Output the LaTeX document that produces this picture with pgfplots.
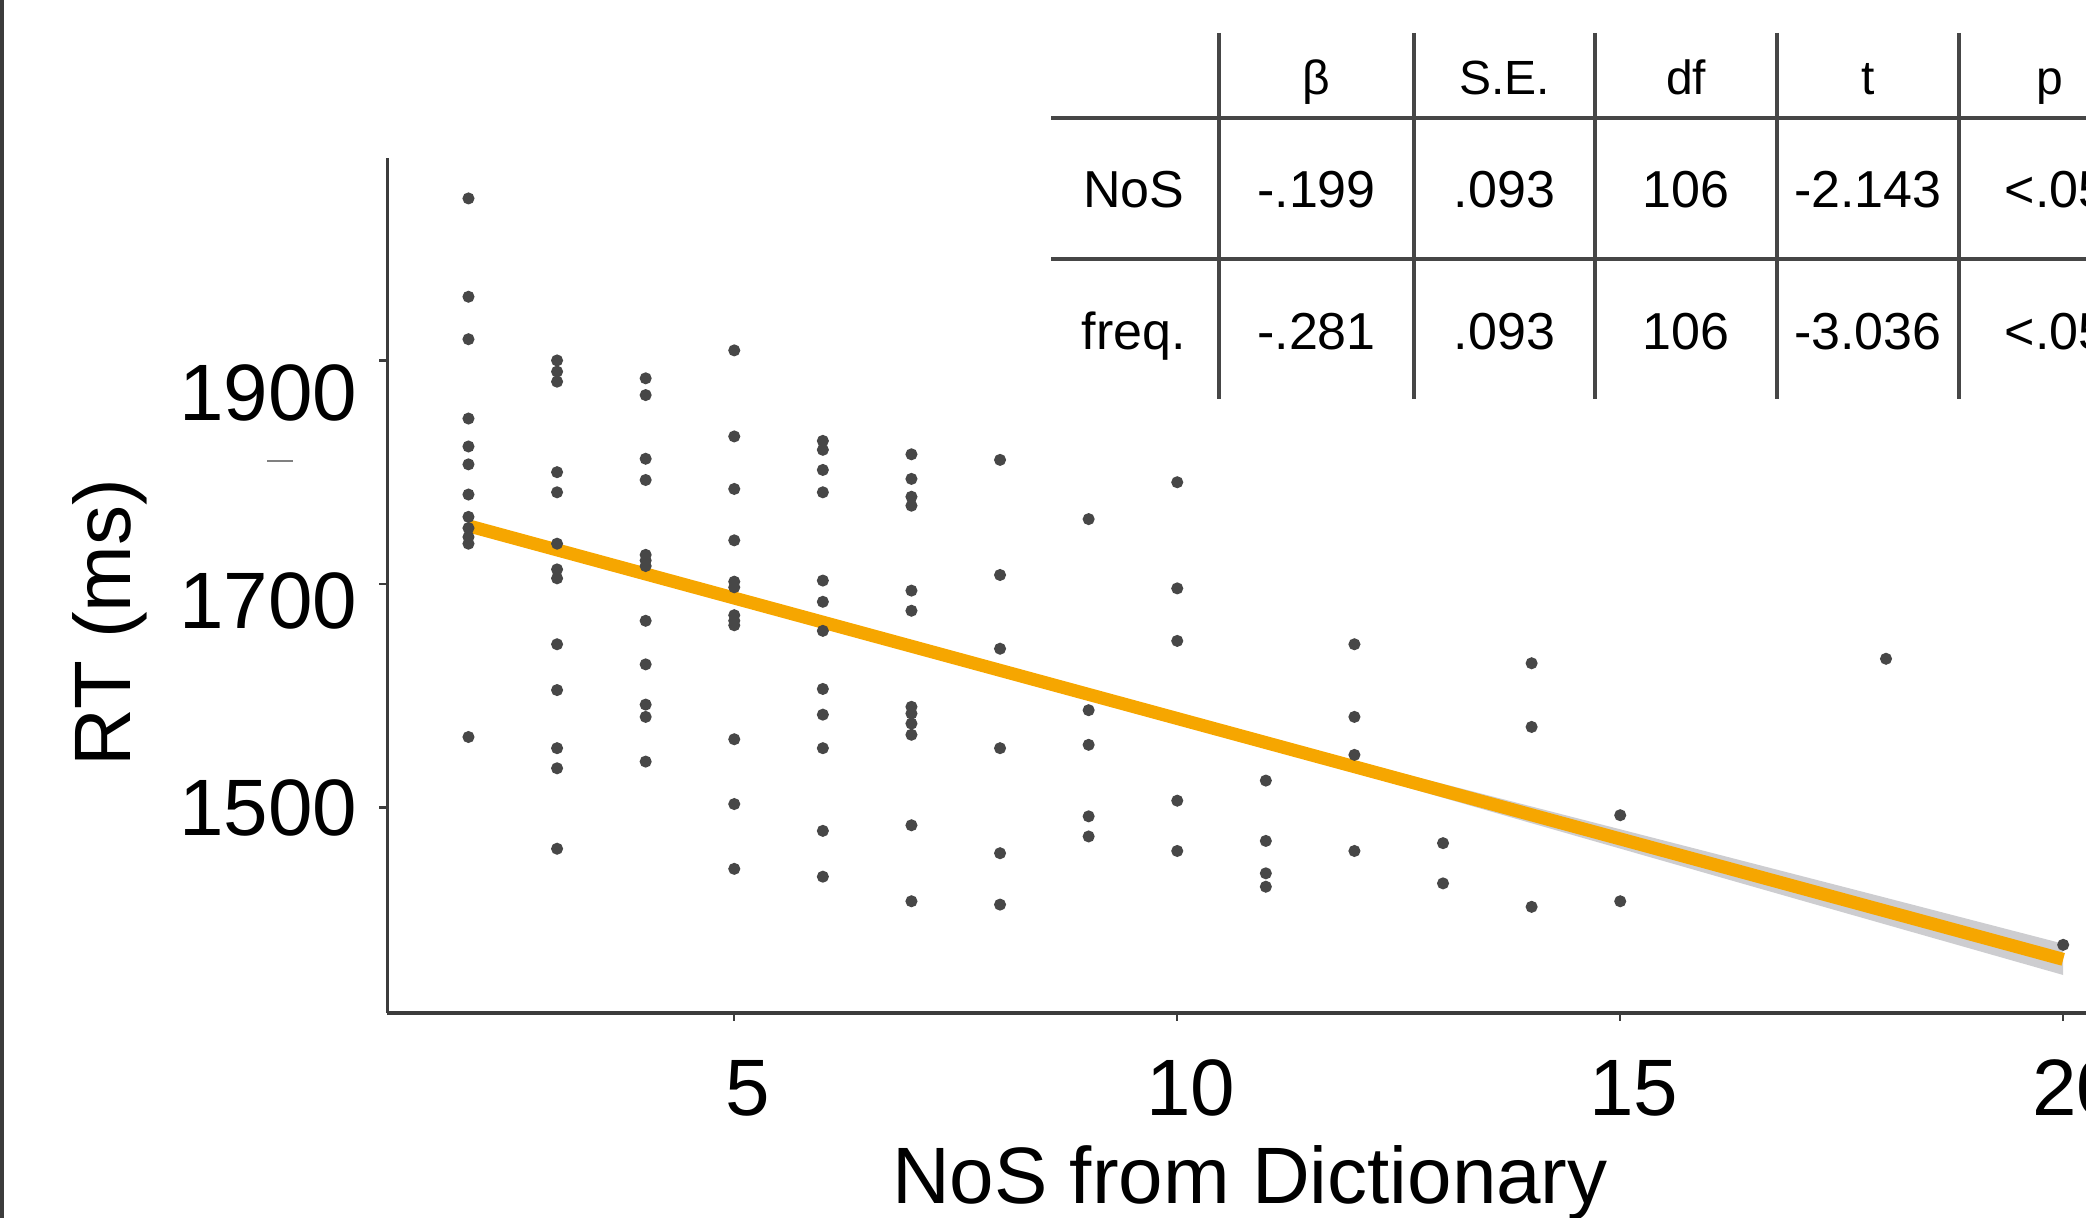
\documentclass[border=0pt]{standalone}
\usepackage{fontspec}
\setmainfont{Liberation Sans}
\usepackage{pgfplots}
\pgfplotsset{compat=1.18}

\definecolor{ptcol}{HTML}{474747}
\definecolor{lineorange}{RGB}{246,166,0}
\definecolor{ribbon}{RGB}{205,205,208}
\definecolor{axiscol}{HTML}{3C3C3C}
\definecolor{tabline}{HTML}{464646}

\begin{document}
\begin{tikzpicture}
\clip (0,0) rectangle (521.5pt,304.5pt);
\begin{pgfinterruptboundingbox}
\begin{axis}[
  at={(96.83pt,51.25pt)}, anchor=south west,
  scale only axis, width=438.9pt, height=213.7pt,
  xmin=1.084, xmax=20.9, ymin=1316, ymax=2081,
  axis lines=left,
  axis line style={-, line width=0.8pt, axiscol},
  xtick={5,10,15,20}, ytick={1500,1700,1900}, yticklabels={},
  tick align=outside, major tick length=2pt,
  tick style={line width=0.6pt, axiscol},
  /pgf/number format/assume math mode=true,
  xticklabel style={font=\fontsize{20}{24}\selectfont, anchor=base, yshift=-23.75pt, xshift=3.4pt},
  xlabel={NoS from Dictionary},
  xlabel style={at={(axis cs:10.82,1145.6)}, anchor=base, font=\fontsize{20}{24}\selectfont},
  ylabel={RT (ms)},
  ylabel style={at={(axis cs:-1.82,1665.5)}, anchor=base, font=\fontsize{20}{24}\selectfont},
]
% individual items
\addplot[only marks, mark=*, mark size=1.3pt, color=ptcol] table {
x y
2 2045
2 1957
2 1919
2 1848
2 1823
2 1807
2 1780
2 1760
2 1750
2 1742
2 1736
2 1563
3 1900
3 1890
3 1881
3 1800
3 1782
3 1736
3 1713
3 1705
3 1646
3 1605
3 1553
3 1535
3 1463
4 1884
4 1869
4 1812
4 1793
4 1726
4 1721
4 1716
4 1667
4 1628
4 1592
4 1581
4 1541
5 1909
5 1832
5 1785
5 1739
5 1702
5 1697
5 1672
5 1667
5 1663
5 1561
5 1503
5 1445
6 1828
6 1820
6 1802
6 1782
6 1703
6 1684
6 1658
6 1606
6 1583
6 1553
6 1479
6 1438
7 1816
7 1794
7 1778
7 1770
7 1694
7 1676
7 1590
7 1584
7 1575
7 1565
7 1484
7 1416
8 1811
8 1708
8 1642
8 1553
8 1459
8 1413
9 1758
9 1587
9 1556
9 1492
9 1474
10 1791
10 1696
10 1649
10 1506
10 1461
11 1524
11 1470
11 1441
11 1429
12 1646
12 1581
12 1547
12 1461
13 1468
13 1432
14 1629
14 1572
14 1411
15 1493
15 1416
18 1633
20 1377
};
% confidence band
\addplot[draw=none, fill=ribbon] coordinates {
(2,1757.0) (6,1668.8) (8,1625.5) (10,1583.1) (12,1541.4) (14,1500.8) (16,1460.0) (18,1419.1) (20,1378.0)
(20,1350.0) (18,1395.1) (16,1440.4) (14,1485.8) (12,1531.4) (10,1576.1) (8,1619.9) (6,1662.8) (2,1747.0)
} --cycle;
% fitted line
\addplot[lineorange, line width=3.25pt] coordinates {(2,1752) (20,1364)};
\end{axis}

\begin{scope}[x=0.25pt, y=-0.25pt, yshift=304.5pt]
  \draw[axiscol, line width=0.8pt] (2,0) -- (2,1218);
  \draw[gray, line width=0.5pt] (267,461) -- (293,461);
  \begin{scope}[font=\fontsize{20}{24}\selectfont]
    \node[anchor=base east, inner sep=0pt] at (358,421) {1900};
    \node[anchor=base east, inner sep=0pt] at (358,629) {1700};
    \node[anchor=base east, inner sep=0pt] at (358,836) {1500};
  \end{scope}
  % table
  \draw[tabline, line width=0.9pt] (1051,118) -- (2086,118);
  \draw[tabline, line width=0.9pt] (1051,259) -- (2086,259);
  \foreach \xx in {1219,1414,1595,1777,1959}
    \draw[tabline, line width=0.9pt] (\xx,33) -- (\xx,399);
  \begin{scope}[font=\fontsize{12}{14}\selectfont, inner sep=0pt]
    \node[anchor=base] at (1316.5,95) {β};
    \node[anchor=base] at (1504.5,95) {S.E.};
    \node[anchor=base] at (1686,95) {df};
    \node[anchor=base] at (1868,95) {t};
    \node[anchor=base] at (2050,95) {p};
  \end{scope}
  \begin{scope}[font=\fontsize{13}{15}\selectfont, inner sep=0pt]
    \node[anchor=base] at (1134,208) {NoS};
    \node[anchor=base] at (1316.5,208) {-.199};
    \node[anchor=base] at (1504.5,208) {.093};
    \node[anchor=base] at (1686,208) {106};
    \node[anchor=base] at (1868,208) {-2.143};
    \node[anchor=base] at (2056,208) {<.05};
    \node[anchor=base] at (1134,350) {freq.};
    \node[anchor=base] at (1316.5,350) {-.281};
    \node[anchor=base] at (1504.5,350) {.093};
    \node[anchor=base] at (1686,350) {106};
    \node[anchor=base] at (1868,350) {-3.036};
    \node[anchor=base] at (2056,350) {<.05};
  \end{scope}
\end{scope}
\end{pgfinterruptboundingbox}
\end{tikzpicture}
\end{document}
